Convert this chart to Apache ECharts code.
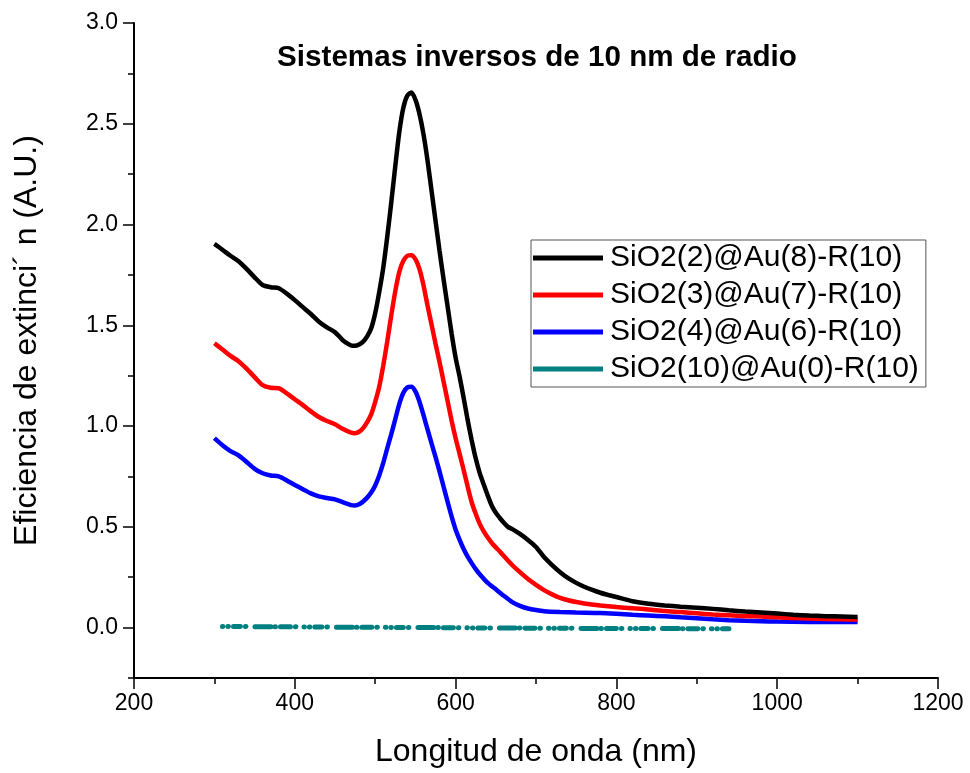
<!DOCTYPE html>
<html>
<head>
<meta charset="utf-8">
<script src="https://cdn.jsdelivr.net/npm/echarts@6/dist/echarts.min.js"></script>
<style>
html,body{margin:0;padding:0;background:#fff;}
#chart{width:970px;height:773px;}
</style>
</head>
<body>
<div id="chart"></div>
<script>
var seriesNames = ['SiO2(2)@Au(8)-R(10)', 'SiO2(3)@Au(7)-R(10)', 'SiO2(4)@Au(6)-R(10)', 'SiO2(10)@Au(0)-R(10)'];

var blackX = [300,310,320,330,340,350,360,370,380,390,400,410,420,430,440,450,460,470,475,480,485,490,495,500,505,510,515,520,525,530,535,540,545,550,555,560,565,570,575,580,585,590,595,600,605,610,615,620,625,630,635,640,645,650,655,660,665,670,680,690,700,710,720,730,740,750,760,770,780,790,800,820,840,860,880,900,920,940,960,980,1000,1020,1040,1060,1080,1100];
var blackY = [1.904,1.875,1.845,1.818,1.78,1.738,1.70,1.689,1.684,1.657,1.625,1.59,1.556,1.518,1.49,1.466,1.425,1.400,1.398,1.405,1.419,1.445,1.485,1.56,1.665,1.785,1.94,2.11,2.29,2.46,2.58,2.64,2.655,2.62,2.55,2.45,2.32,2.17,2.02,1.87,1.73,1.595,1.46,1.34,1.245,1.14,1.03,0.93,0.84,0.767,0.71,0.655,0.605,0.57,0.544,0.52,0.50,0.49,0.465,0.435,0.40,0.35,0.31,0.275,0.245,0.222,0.203,0.187,0.173,0.162,0.152,0.131,0.118,0.110,0.104,0.099,0.093,0.086,0.080,0.075,0.070,0.064,0.060,0.057,0.055,0.053];

var redX = [300,310,320,330,340,350,360,370,380,390,400,410,420,430,440,450,460,470,475,480,485,490,495,500,505,510,515,520,525,530,535,540,545,550,555,560,565,570,575,580,585,590,595,600,605,610,615,620,625,630,635,640,645,650,655,660,670,680,690,700,710,720,730,740,750,760,780,800,820,840,860,880,900,920,940,960,980,1000,1020,1040,1060,1080,1100];
var redY = [1.411,1.38,1.348,1.322,1.285,1.243,1.203,1.19,1.188,1.162,1.133,1.104,1.073,1.045,1.025,1.009,0.985,0.967,0.965,0.972,0.990,1.02,1.058,1.12,1.195,1.30,1.42,1.55,1.67,1.765,1.82,1.845,1.848,1.828,1.78,1.70,1.60,1.505,1.41,1.318,1.222,1.125,1.028,0.94,0.862,0.782,0.70,0.622,0.565,0.515,0.478,0.447,0.42,0.398,0.378,0.355,0.312,0.275,0.241,0.212,0.186,0.165,0.148,0.136,0.127,0.120,0.110,0.102,0.096,0.090,0.082,0.077,0.071,0.065,0.061,0.057,0.055,0.051,0.048,0.045,0.043,0.041,0.040];

var blueX = [300,310,320,330,340,350,360,370,380,390,400,410,420,430,440,450,460,470,475,480,485,490,495,500,505,510,515,520,525,530,535,540,545,550,555,560,565,570,575,580,585,590,595,600,605,610,615,620,625,630,640,650,660,670,680,690,700,710,730,750,780,800,820,840,860,880,900,920,940,960,980,1000,1040,1100];
var blueY = [0.940,0.905,0.876,0.855,0.822,0.788,0.766,0.755,0.750,0.730,0.708,0.687,0.666,0.651,0.643,0.636,0.622,0.608,0.606,0.612,0.626,0.645,0.67,0.705,0.755,0.817,0.89,0.96,1.035,1.11,1.165,1.192,1.195,1.172,1.122,1.055,0.985,0.915,0.847,0.775,0.700,0.625,0.552,0.487,0.435,0.39,0.352,0.32,0.29,0.265,0.222,0.19,0.158,0.128,0.108,0.095,0.087,0.081,0.077,0.075,0.073,0.069,0.064,0.060,0.056,0.051,0.046,0.041,0.037,0.034,0.032,0.030,0.028,0.028];

var tealX = [310,340,370,400,430,460,490,520,550,580,610,640,670,700,730,760,790,820,850,880,910,940];
var tealY = [0.006,0.005,0.004,0.004,0.003,0.002,0.002,0.001,0.0,0.0,-0.001,-0.002,-0.002,-0.003,-0.003,-0.004,-0.004,-0.005,-0.005,-0.005,-0.006,-0.006];

var yMajorTicks = [0, 0.5, 1.0, 1.5, 2.0, 2.5, 3.0];
var yMinorTicks = [-0.25, 0.25, 0.75, 1.25, 1.75, 2.25, 2.75];
var xTicks = [200, 400, 600, 800, 1000, 1200];

var titleText = 'Sistemas inversos de 10 nm de radio';
var xName = 'Longitud de onda (nm)';
var yName = 'Eficiencia de extinci\u00B4 n (A.U.)';

function pairs(xs, ys) { return xs.map(function (x, i) { return [x, ys[i]]; }); }

var colors = ['#000000', '#ff0000', '#0000ff', '#008080'];
var FONT = '"Liberation Sans", Arial, sans-serif';

var chart = echarts.init(document.getElementById('chart'), null, {renderer: 'canvas'});

var mkLine = function (idx, xs, ys, extra) {
  var s = {
    name: seriesNames[idx],
    type: 'line',
    data: pairs(xs, ys),
    showSymbol: false,
    symbol: 'none',
    smooth: 0.25,
    color: colors[idx],
    lineStyle: {color: colors[idx], width: 4.5},
    z: 10 - idx
  };
  if (extra) { for (var k in extra) s[k] = extra[k]; }
  return s;
};

var option = {
  animation: false,
  backgroundColor: '#ffffff',
  textStyle: {fontFamily: FONT},
  title: {
    text: titleText,
    left: 537,
    top: 43,
    textAlign: 'center',
    padding: 0,
    textStyle: {fontFamily: FONT, fontSize: 29.6, fontWeight: 'bold', color: '#000'}
  },
  legend: {
    orient: 'vertical',
    left: 531,
    top: 240,
    padding: [3, 7, 3, 2],
    itemGap: 7,
    itemWidth: 70,
    itemHeight: 5,
    borderColor: '#555',
    borderWidth: 1,
    backgroundColor: '#fff',
    data: seriesNames.map(function (n) { return {name: n, icon: 'rect'}; }),
    textStyle: {fontFamily: FONT, fontSize: 30, color: '#000', lineHeight: 30, padding: [0, 0, 0, 2]}
  },
  grid: {left: 134, right: 32, top: 23, bottom: 95, containLabel: false},
  xAxis: {
    type: 'value',
    min: 200,
    max: 1200,
    interval: 200,
    name: xName,
    nameLocation: 'middle',
    nameGap: 58,
    nameTextStyle: {fontFamily: FONT, fontSize: 32, color: '#000'},
    axisLine: {show: true, onZero: false, lineStyle: {color: '#000', width: 2}},
    axisTick: {show: true, inside: false, length: 11, lineStyle: {color: '#000', width: 1.5}},
    minorTick: {show: true, splitNumber: 2, length: 6, lineStyle: {color: '#000', width: 1.5}},
    axisLabel: {fontFamily: FONT, fontSize: 23, color: '#000', margin: 14,
      formatter: function (v) { return xTicks.indexOf(v) >= 0 ? String(v) : ''; }},
    splitLine: {show: false},
    minorSplitLine: {show: false}
  },
  yAxis: [{
    type: 'value',
    min: -0.25,
    max: 3.0,
    interval: 0.25,
    name: yName,
    nameLocation: 'middle',
    nameGap: 91,
    nameRotate: 90,
    nameTextStyle: {fontFamily: FONT, fontSize: 32, color: '#000', padding: [0, 0, 0, 20]},
    axisLine: {show: true, onZero: false, lineStyle: {color: '#000', width: 2}},
    axisTick: {show: true, inside: false, length: 11, customValues: yMajorTicks, lineStyle: {color: '#000', width: 1.5}},
    axisLabel: {fontFamily: FONT, fontSize: 23, color: '#000', margin: 16, customValues: yMajorTicks,
      formatter: function (v) { return v.toFixed(1); }},
    splitLine: {show: false}
  }, {
    type: 'value',
    position: 'left',
    min: -0.25,
    max: 3.0,
    interval: 0.25,
    axisLine: {show: false},
    axisTick: {show: true, inside: false, length: 6, customValues: yMinorTicks, lineStyle: {color: '#000', width: 1.5}},
    axisLabel: {show: false},
    splitLine: {show: false}
  }],
  series: [
    mkLine(0, blackX, blackY),
    mkLine(1, redX, redY),
    mkLine(2, blueX, blueY),
    mkLine(3, tealX, tealY, {
      smooth: false,
      lineStyle: {color: colors[3], width: 5, cap: 'round', type: [0.5, 5, 0.5, 5, 7, 5, 0.5, 9, 16, 4, 0.5, 5, 10, 5, 0.5, 8]}
    })
  ]
};
chart.setOption(option);
</script>
</body>
</html>
